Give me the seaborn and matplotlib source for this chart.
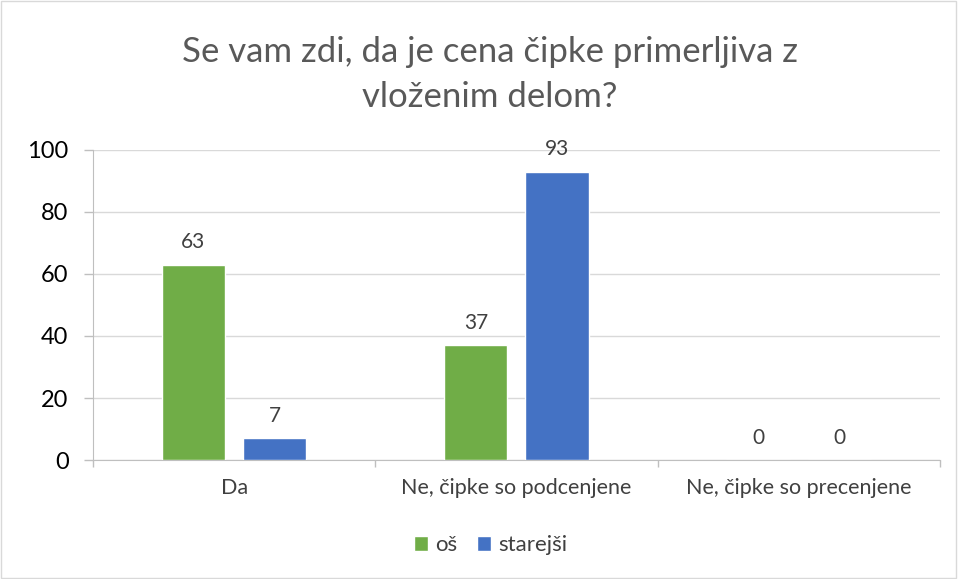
import pandas as pd
import matplotlib.pyplot as plt
import seaborn as sns
from matplotlib.patches import Rectangle

categories = ['Da', 'Ne, čipke so podcenjene', 'Ne, čipke so precenjene']
os_vals = [63, 37, 0]
starejsi_vals = [7, 93, 0]
series = ['oš', 'starejši']

df = pd.DataFrame({
    'kategorija': categories * 2,
    'skupina': [series[0]] * 3 + [series[1]] * 3,
    'vrednost': os_vals + starejsi_vals,
})

sns.set_style('white')
plt.rcParams['font.family'] = ['Lato', 'DejaVu Sans']

fig = plt.figure(figsize=(9.58, 5.79), dpi=100)
ax = fig.add_axes([0.097, 0.2055, 0.884, 0.5355])

palette = {'oš': '#70AD47', 'starejši': '#4472C4'}
sns.barplot(data=df, x='kategorija', y='vrednost', hue='skupina', palette=palette,
            width=0.575, gap=0.22, ax=ax, saturation=1, zorder=3)

for cont in ax.containers:
    ax.bar_label(cont, padding=9, fontsize=15, color='#404040')

ax.set_ylim(0, 100)
ax.set_yticks(range(0, 101, 20))
ax.set_xlim(-0.5, 2.5)
ax.grid(axis='y', color='#D9D9D9', linewidth=1, zorder=0)
ax.set_xlabel('')
ax.set_ylabel('')
for s in ['right', 'top']:
    ax.spines[s].set_visible(False)
ax.spines['bottom'].set_color('#BFBFBF')
ax.spines['left'].set_color('#BFBFBF')
ax.tick_params(axis='y', length=6.5, width=1, color='#BFBFBF', left=True,
               labelsize=17, labelcolor='#000000', pad=11)
ax.tick_params(axis='x', which='major', length=0, labelsize=15.5, labelcolor='#404040', pad=13)
ax.set_xticks([-0.5, 0.5, 1.5, 2.5], minor=True)
ax.tick_params(axis='x', which='minor', length=5, color='#BFBFBF', width=1, bottom=True)

fig.suptitle('Se vam zdi, da je cena čipke primerljiva z\nvloženim delom?',
             x=0.511, y=0.937, va='top', fontsize=25, color='#595959', linespacing=1.5)

leg = ax.legend(loc='center', bbox_to_anchor=(0.47, -0.275), ncol=2, frameon=False,
                fontsize=16, handlelength=0.6, handleheight=0.6, handletextpad=0.35,
                columnspacing=0.9)
for t in leg.get_texts():
    t.set_color('#404040')

fig.patches.append(Rectangle((0.001, 0.001), 0.997, 0.997, transform=fig.transFigure,
                             fill=False, edgecolor='#D9D9D9', linewidth=1))

plt.savefig('out.png', dpi=100)
plt.close()
